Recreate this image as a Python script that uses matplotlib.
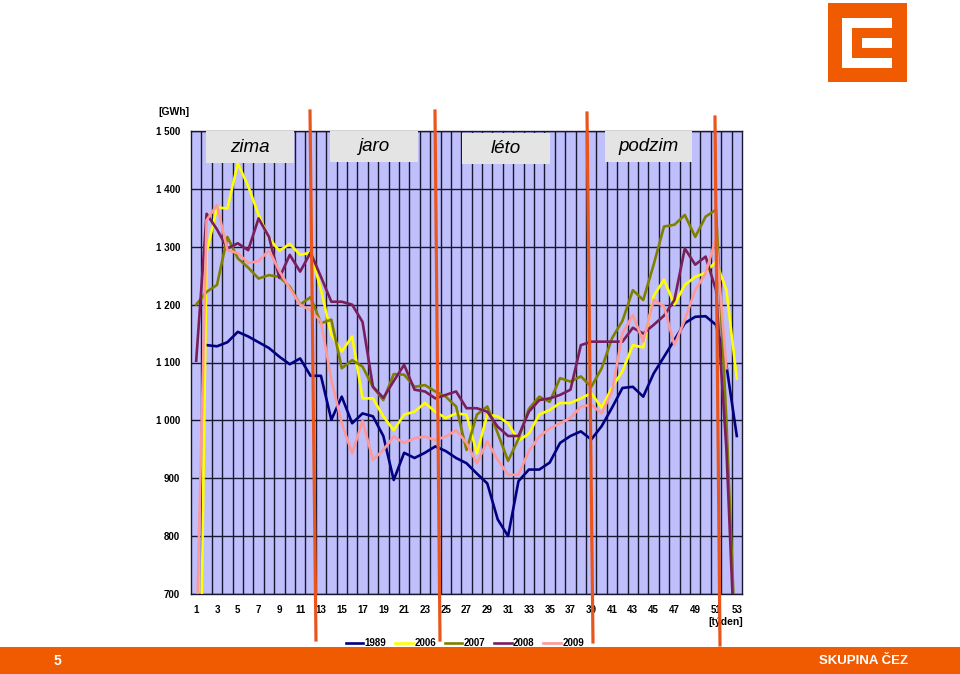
import matplotlib
matplotlib.use("Agg")
import matplotlib.pyplot as plt
import matplotlib.ticker as mticker
from matplotlib.patches import Rectangle
from matplotlib.lines import Line2D
import numpy as np

nan = np.nan

W, H = 960, 674

weeks = list(range(1, 54))

y1989 = [nan, 1130, 1128, 1135, 1153, 1145, 1135, 1125, 1110, 1097,
         1107, 1077, 1077, 1001, 1041, 995, 1012, 1007, 973, 897,
         944, 935, 944, 955, 947, 935, 926, 908, 891, 829,
         800, 895, 915, 915, 927, 961, 973, 981, 967, 990,
         1022, 1056, 1058, 1041, 1081, 1110, 1139, 1168, 1179, 1180,
         1165, 1095, 973]

y2006 = [0, 1290, 1368, 1366, 1444, 1405, 1355, 1315, 1293, 1305,
         1286, 1290, 1226, 1148, 1119, 1145, 1038, 1038, 1007, 983,
         1010, 1015, 1030, 1015, 1004, 1012, 1010, 943, 1010, 1007,
         995, 965, 977, 1010, 1018, 1030, 1030, 1038, 1047, 1022,
         1057, 1085, 1130, 1126, 1215, 1243, 1200, 1234, 1248, 1255,
         1275, 1225, 1072]

y2007 = [1200, 1222, 1234, 1317, 1280, 1264, 1245, 1251, 1248, 1231,
         1200, 1213, 1168, 1174, 1090, 1104, 1093, 1058, 1035, 1080,
         1079, 1058, 1061, 1050, 1041, 1024, 949, 1010, 1024, 978,
         930, 968, 1020, 1041, 1032, 1073, 1067, 1076, 1058, 1090,
         1142, 1172, 1225, 1208, 1269, 1335, 1338, 1355, 1317, 1352,
         1364, 1000, 555]

y2008 = [1103, 1357, 1330, 1297, 1306, 1294, 1349, 1317, 1246, 1286,
         1257, 1290, 1248, 1205, 1205, 1200, 1170, 1058, 1039, 1068,
         1096, 1053, 1050, 1038, 1044, 1050, 1021, 1021, 1015, 989,
         973, 973, 1015, 1035, 1038, 1044, 1053, 1130, 1136, 1136,
         1136, 1136, 1160, 1150, 1165, 1181, 1208, 1297, 1269, 1283,
         1225, 950, 520]

y2009 = [600, 1346, 1372, 1294, 1289, 1272, 1275, 1294, 1258, 1228,
         1200, 1190, 1171, 1070, 995, 943, 999, 932, 949, 972,
         961, 969, 972, 966, 972, 983, 961, 926, 964, 932,
         906, 906, 947, 972, 986, 995, 1004, 1024, 1027, 1012,
         1050, 1150, 1182, 1136, 1208, 1197, 1130, 1174, 1225, 1254,
         1315, 1090, nan]

series = [("1989", y1989, "#000080"),
          ("2006", y2006, "#FFFF00"),
          ("2007", y2007, "#808000"),
          ("2008", y2008, "#7A1F5C"),
          ("2009", y2009, "#FF9999")]

seasons = ["zima", "jaro", "léto", "podzim"]

ORANGE = "#F05A00"
LINE_ORANGE = "#E8561E"
FONT = ["Liberation Sans", "DejaVu Sans"]

plt.rcParams["font.family"] = FONT


def px_rect(x0, y0, x1, y1, **kw):
    # pixel box (top-left origin) -> figure rectangle
    return Rectangle((x0 / W, 1 - y1 / H), (x1 - x0) / W, (y1 - y0) / H,
                     transform=fig.transFigure, **kw)


fig = plt.figure(figsize=(W / 100, H / 100), dpi=100)
fig.patch.set_facecolor("white")
ax = fig.add_axes([191 / W, 1 - 594 / H, (742 - 191) / W, (594 - 131) / H])
ax.set_facecolor("#BFBFFC")

for name, vals, col in series:
    ax.plot(weeks, vals, color=col, lw=1.9, label=name, zorder=3)

ax.set_xlim(0.5, 53.5)
ax.set_ylim(700, 1500)
ax.set_xticks(range(1, 54, 2))
ax.set_xticks(np.arange(1.5, 53, 1), minor=True)
ax.set_yticks(range(700, 1501, 100))
ax.yaxis.set_major_formatter(
    mticker.FuncFormatter(lambda v, p: f"{int(v):,}".replace(",", " ")))
ax.grid(which="minor", axis="x", color="#181830", lw=1.0)
ax.grid(which="major", axis="y", color="#181830", lw=1.0)
ax.set_axisbelow(True)
ax.tick_params(which="both", length=0)
ax.tick_params(axis="x", pad=8, labelsize=7)
ax.tick_params(axis="y", pad=8, labelsize=7)
for lab in ax.get_xticklabels() + ax.get_yticklabels():
    lab.set_fontweight("bold")
for sp in ax.spines.values():
    sp.set_color("#181830")
    sp.set_linewidth(1.0)

fig.text(158 / W, 1 - 112 / H, "[GWh]", fontsize=7.5, fontweight="bold",
         ha="left", va="center")
fig.text(743 / W, 1 - 622 / H, "[týden]", fontsize=7.5, fontweight="bold",
         ha="right", va="center")

fig.legend(loc="center", bbox_to_anchor=(465 / W, 1 - 643 / H), ncol=5,
           frameon=False, prop={"size": 7, "weight": "bold"},
           handlelength=1.8, handletextpad=0.15, columnspacing=0.9)

# season boxes
boxes = [(206, 131, 294, 163), (330, 131, 418, 162),
         (462, 133, 550, 164), (605, 131, 692, 162)]
for (x0, y0, x1, y1), s in zip(boxes, seasons):
    fig.patches.append(px_rect(x0, y0, x1, y1, facecolor="#E4E4E4",
                               edgecolor="none", zorder=5))
    fig.text((x0 + x1) / 2 / W, 1 - (y0 + y1) / 2 / H, s, fontsize=13.5,
             style="italic", ha="center", va="center", zorder=6)

# season separators
for xt, yt, xb, yb in [(310, 111, 316, 640), (435, 111, 440, 640),
                       (587, 113, 593, 642), (715, 117, 720, 645)]:
    fig.lines.append(Line2D([xt / W, xb / W], [1 - yt / H, 1 - yb / H],
                            transform=fig.transFigure, color=LINE_ORANGE,
                            lw=2.3, zorder=7))

# logo
fig.patches.append(px_rect(827.7, 3.3, 907.3, 82.3, facecolor=ORANGE, edgecolor="none"))
fig.patches.append(px_rect(842.3, 18.3, 892.3, 67.7, facecolor="white", edgecolor="none"))
fig.patches.append(px_rect(852.3, 28.3, 892.3, 58.3, facecolor=ORANGE, edgecolor="none"))
fig.patches.append(px_rect(862.3, 38.3, 892.3, 48.3, facecolor="white", edgecolor="none"))

# footer
fig.patches.append(px_rect(0, 647, W, H + 1, facecolor=ORANGE, edgecolor="none"))
fig.text(57 / W, 1 - 661 / H, "5", color="white", fontsize=10,
         fontweight="bold", ha="center", va="center")
fig.text(908 / W, 1 - 661 / H, "SKUPINA ČEZ", color="white", fontsize=9.5,
         fontweight="bold", ha="right", va="center")

fig.savefig("out.png", dpi=100)
